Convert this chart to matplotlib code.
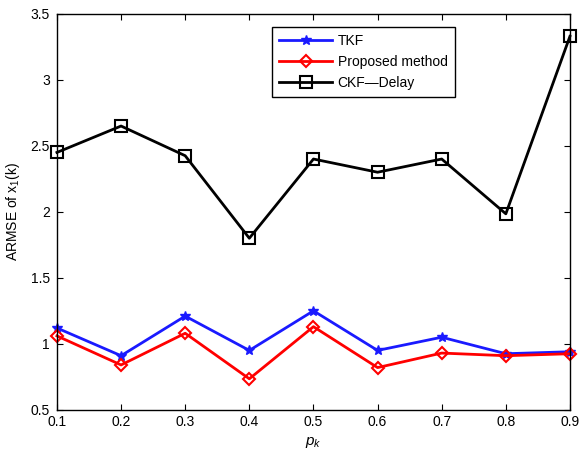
import numpy as np
import matplotlib.pyplot as plt

plt.rcParams['font.family'] = ['Liberation Sans', 'DejaVu Sans']
plt.rcParams['mathtext.fontset'] = 'custom'
plt.rcParams['mathtext.rm'] = 'Liberation Sans'
plt.rcParams['mathtext.it'] = 'Liberation Sans:italic'

pk = [0.1, 0.2, 0.3, 0.4, 0.5, 0.6, 0.7, 0.8, 0.9]
tkf = [1.12, 0.91, 1.21, 0.95, 1.25, 0.95, 1.05, 0.925, 0.94]
proposed = [1.06, 0.84, 1.08, 0.735, 1.13, 0.82, 0.93, 0.91, 0.925]
ckf_delay = [2.45, 2.65, 2.425, 1.80, 2.40, 2.30, 2.40, 1.985, 3.33]

fig = plt.figure(figsize=(5.81, 4.61), dpi=100)
ax = fig.add_axes([0.098, 0.111, 0.883, 0.859])

ax.plot(pk, tkf, color='#1a1aff', lw=2, marker='*', ms=7, label='TKF', clip_on=False)
ax.plot(pk, proposed, color='red', lw=2, marker='D', ms=6.5, mfc='none', mew=1.5,
        label='Proposed method', clip_on=False)
ax.plot(pk, ckf_delay, color='black', lw=2, marker='s', ms=8, mfc='none', mew=1.5,
        label='CKF\u2014Delay', clip_on=False)

ax.set_xlim(0.1, 0.9)
ax.set_ylim(0.5, 3.5)
ax.set_xticks(np.arange(0.1, 0.91, 0.1))
ax.set_xticklabels(['0.1', '0.2', '0.3', '0.4', '0.5', '0.6', '0.7', '0.8', '0.9'])
ax.set_yticks(np.arange(0.5, 3.51, 0.5))
ax.set_yticklabels(['0.5', '1', '1.5', '2', '2.5', '3', '3.5'])
ax.tick_params(direction='in', top=True, right=True, labelsize=10, length=4)
ax.tick_params(axis='x', pad=4)
ax.tick_params(axis='y', pad=5)
for s in ax.spines.values():
    s.set_linewidth(1)

ax.set_xlabel('$p_k$', fontsize=11, labelpad=4)
ax.set_ylabel('ARMSE of x$_1$(k)', fontsize=10, labelpad=6)

leg = ax.legend(loc='upper left', bbox_to_anchor=(0.42, 0.967), borderaxespad=0,
                fontsize=10, fancybox=False, edgecolor='black', framealpha=1,
                handlelength=3.8, borderpad=0.5, labelspacing=0.5, handletextpad=0.4)
leg.get_frame().set_linewidth(1)

fig.savefig('out.png', dpi=100)
